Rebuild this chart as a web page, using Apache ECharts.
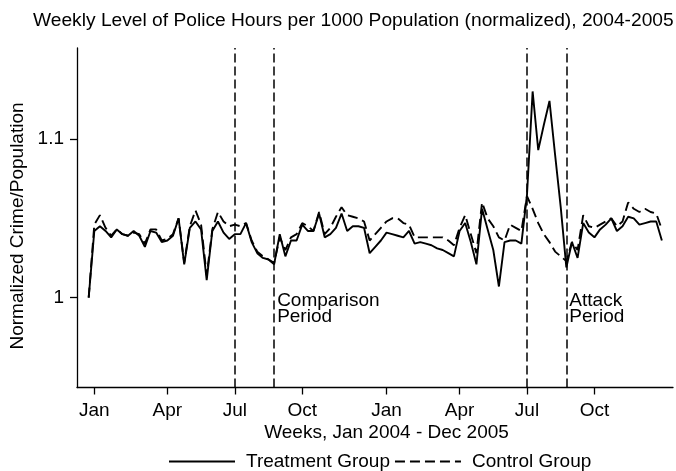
<!DOCTYPE html>
<html>
<head>
<meta charset="utf-8">
<script src="https://cdn.jsdelivr.net/npm/echarts@6/dist/echarts.min.js"></script>
<style>
html, body { margin: 0; padding: 0; background: #fff; }
#chart { width: 676px; height: 471px; }
</style>
</head>
<body>
<div id="chart"></div>
<script>
// weekly values, index 0 = last week of Dec 2003
const treatment = [
  1.000, 1.042, 1.045, 1.042, 1.038, 1.043, 1.040, 1.039, 1.042, 1.039,
  1.032, 1.042, 1.041, 1.035, 1.036, 1.039, 1.050, 1.021, 1.044, 1.048,
  1.043, 1.011, 1.042, 1.048, 1.041, 1.037, 1.040, 1.040, 1.047, 1.035,
  1.028, 1.025, 1.024, 1.021, 1.040, 1.026, 1.036, 1.036, 1.046, 1.042,
  1.042, 1.053, 1.038, 1.040, 1.044, 1.053, 1.042, 1.045, 1.045, 1.044,
  1.028, 1.032, 1.036, 1.041, 1.040, 1.039, 1.038, 1.042, 1.034, 1.035,
  1.034, 1.033, 1.031, 1.030, 1.028, 1.026, 1.042, 1.047, 1.035, 1.021,
  1.056, 1.043, 1.030, 1.007, 1.035, 1.036, 1.036, 1.034, 1.065, 1.130,
  1.093, 1.109, 1.124, 1.090, 1.057, 1.019, 1.035, 1.025, 1.047, 1.041,
  1.038, 1.043, 1.046, 1.050, 1.042, 1.045, 1.051, 1.050, 1.046, 1.047,
  1.048, 1.048, 1.036
];
const control = [
  1.000, 1.046, 1.052, 1.044, 1.039, 1.043, 1.040, 1.039, 1.041, 1.040,
  1.034, 1.043, 1.043, 1.036, 1.037, 1.040, 1.050, 1.022, 1.045, 1.055,
  1.046, 1.014, 1.043, 1.054, 1.048, 1.045, 1.046, 1.045, 1.047, 1.036,
  1.029, 1.026, 1.024, 1.022, 1.038, 1.030, 1.038, 1.040, 1.047, 1.045,
  1.042, 1.054, 1.040, 1.044, 1.051, 1.057, 1.052, 1.051, 1.050, 1.048,
  1.036, 1.040, 1.044, 1.048, 1.050, 1.050, 1.047, 1.046, 1.038, 1.038,
  1.038, 1.038, 1.038, 1.038, 1.036, 1.033, 1.044, 1.052, 1.040, 1.028,
  1.060, 1.050, 1.045, 1.038, 1.036, 1.046, 1.044, 1.042, 1.064, 1.056,
  1.047, 1.040, 1.035, 1.029, 1.026, 1.023, 1.035, 1.030, 1.052, 1.045,
  1.044, 1.046, 1.048, 1.050, 1.045, 1.048, 1.060, 1.056, 1.054, 1.056,
  1.054, 1.053, 1.043
];
const weeks = treatment.map((v, i) => i);
const tickWeeks = [1, 14, 26, 38, 53, 66, 78, 90];
const tickNames = ['Jan', 'Apr', 'Jul', 'Oct', 'Jan', 'Apr', 'Jul', 'Oct'];
const yTicks = [1, 1.1];
const periodWeeks = [26, 33, 78, 85];
const periodNames = ['Comparison\nPeriod', 'Attack\nPeriod'];

const FONT = "'Liberation Sans', Arial, Helvetica, sans-serif";
const dom = document.getElementById('chart');
const chart = echarts.init(dom, null, { renderer: 'canvas' });

const option = {
  animation: false,
  backgroundColor: '#fff',
  textStyle: { fontFamily: FONT, color: '#000' },
  title: {
    text: 'Weekly Level of Police Hours per 1000 Population (normalized), 2004-2005',
    left: 33,
    top: 11,
    padding: 0,
    textStyle: { fontFamily: FONT, fontSize: 19.2, fontWeight: 'normal', color: '#000' }
  },
  legend: {
    left: 168,
    top: 452,
    padding: 0,
    itemWidth: 66,
    itemHeight: 14,
    itemGap: 4,
    itemStyle: { opacity: 0 },
    data: ['Treatment Group', 'Control Group'],
    textStyle: { fontFamily: FONT, fontSize: 19, color: '#000', padding: [0, 0, 0, 6] }
  },
  grid: {
    left: 77,
    right: 3,
    top: 48,
    bottom: 83.5,
    containLabel: false
  },
  xAxis: {
    type: 'value',
    min: -2.08,
    max: 103.98,
    splitLine: { show: false },
    axisLine: { show: true, onZero: false, lineStyle: { color: '#000', width: 1.3 } },
    axisTick: { show: true, length: 7, customValues: tickWeeks, lineStyle: { color: '#000', width: 1.3 } },
    axisLabel: {
      show: true,
      margin: 14,
      customValues: tickWeeks,
      fontFamily: FONT,
      fontSize: 19,
      color: '#000',
      formatter: function (val) {
        const i = tickWeeks.indexOf(val);
        return i >= 0 ? tickNames[i] : '';
      }
    }
  },
  yAxis: {
    type: 'value',
    min: 0.9433,
    max: 1.1574,
    splitLine: { show: false },
    axisLine: { show: true, onZero: false, lineStyle: { color: '#000', width: 1.3 } },
    axisTick: { show: true, length: 7, customValues: yTicks, lineStyle: { color: '#000', width: 1.3 } },
    axisLabel: {
      show: true,
      margin: 13,
      customValues: yTicks,
      fontFamily: FONT,
      fontSize: 19,
      color: '#000'
    }
  },
  series: [
    {
      name: 'Treatment Group',
      type: 'line',
      data: weeks.map((w, i) => [w, treatment[i]]),
      symbol: 'none',
      lineStyle: { color: '#000', width: 1.9, type: 'solid' },
      itemStyle: { color: '#000' },
      z: 3
    },
    {
      name: 'Control Group',
      type: 'line',
      data: weeks.map((w, i) => [w, control[i]]),
      symbol: 'none',
      lineStyle: { color: '#000', width: 1.9, type: [10, 5] },
      itemStyle: { color: '#000' },
      z: 2,
      markLine: {
        silent: true,
        symbol: 'none',
        label: { show: false },
        lineStyle: { color: '#000', width: 1.5, type: [9, 4] },
        data: periodWeeks.map(w => ({ xAxis: w }))
      }
    }
  ]
};
chart.setOption(option);

// axis titles and period notes
const notes = [];
[periodWeeks[1], periodWeeks[3]].forEach((w, k) => {
  const p = chart.convertToPixel({ gridIndex: 0 }, [w, 1]);
  notes.push({
    type: 'text',
    left: p[0] + 3,
    top: p[1] - 6,
    style: {
      text: periodNames[k],
      font: '19px ' + FONT,
      lineHeight: 16,
      fill: '#000'
    }
  });
});
notes.push({
  type: 'text',
  x: 386.5,
  y: 433,
  style: {
    text: 'Weeks, Jan 2004 - Dec 2005',
    font: '19px ' + FONT,
    fill: '#000',
    align: 'center',
    verticalAlign: 'middle'
  }
});
notes.push({
  type: 'text',
  x: 18,
  y: 226,
  rotation: Math.PI / 2,
  style: {
    text: 'Normalized Crime/Population',
    font: '19px ' + FONT,
    fill: '#000',
    align: 'center',
    verticalAlign: 'middle'
  }
});
chart.setOption({ graphic: notes });
</script>
</body>
</html>
